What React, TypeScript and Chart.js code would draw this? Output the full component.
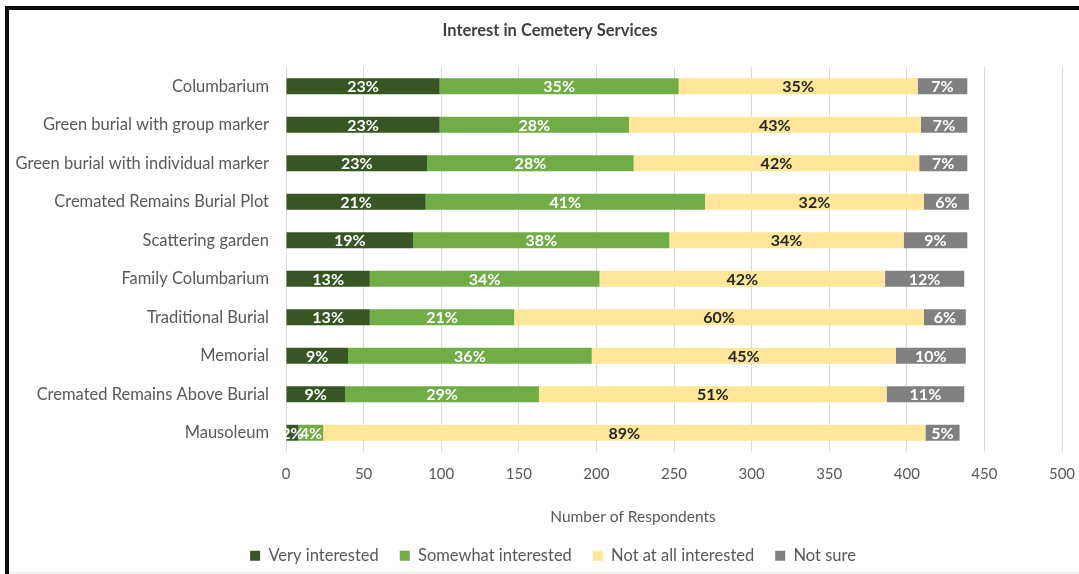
import React, { useEffect, useRef } from "react";
import { Chart, registerables } from "chart.js";

Chart.register(...registerables);

const categories = [
  "Columbarium",
  "Green burial with group marker",
  "Green burial with individual marker",
  "Cremated Remains Burial Plot",
  "Scattering garden",
  "Family Columbarium",
  "Traditional Burial",
  "Memorial",
  "Cremated Remains Above Burial",
  "Mausoleum",
];

const veryInterested = [99, 99, 91, 90, 82, 54, 54, 40, 38, 8];
const somewhatInterested = [154, 122, 133, 180, 165, 148, 93, 157, 125, 16];
const notAtAllInterested = [154, 188, 184, 141, 151, 184, 264, 196, 224, 388];
const notSure = [32, 30, 31, 29, 41, 51, 27, 45, 50, 22];

const veryLabels = ["23%", "23%", "23%", "21%", "19%", "13%", "13%", "9%", "9%", "2%"];
const somewhatLabels = ["35%", "28%", "28%", "41%", "38%", "34%", "21%", "36%", "29%", "4%"];
const notAtAllLabels = ["35%", "43%", "42%", "32%", "34%", "42%", "60%", "45%", "51%", "89%"];
const notSureLabels = ["7%", "7%", "7%", "6%", "9%", "12%", "6%", "10%", "11%", "5%"];

const seriesNames = ["Very interested", "Somewhat interested", "Not at all interested", "Not sure"];
const seriesColors = ["#375623", "#70AD47", "#FFE699", "#808080"];
const labelColors = ["#FFFFFF", "#FFFFFF", "#262626", "#FFFFFF"];

const xTicks = [0, 50, 100, 150, 200, 250, 300, 350, 400, 450, 500];

const chartTitle = "Interest in Cemetery Services";
const xAxisTitle = "Number of Respondents";

const FONT = "Lato, 'Open Sans', sans-serif";
const TEXT = "#595959";

const legendShiftPlugin = {
  id: "legendShift",
  afterLayout(chart: any) {
    const lg = chart.legend;
    if (!lg) return;
    lg.left += 17.5;
    lg.right += 17.5;
    lg.top += 2;
    lg.bottom += 2;
  },
};

const overlayPlugin = {
  id: "overlayText",
  afterDatasetsDraw(chart: any) {
    const ctx = chart.ctx;
    const labelSets = [veryLabels, somewhatLabels, notAtAllLabels, notSureLabels];
    ctx.save();
    ctx.font = `bold 16px ${FONT}`;
    ctx.textAlign = "center";
    ctx.textBaseline = "middle";
    chart.data.datasets.forEach((_ds: any, di: number) => {
      const meta = chart.getDatasetMeta(di);
      meta.data.forEach((bar: any, i: number) => {
        const p = bar.getProps(["x", "y", "base"], true);
        const cx = (p.x + p.base) / 2;
        ctx.fillStyle = labelColors[di];
        ctx.fillText(labelSets[di][i], cx, p.y + 1);
      });
    });
    ctx.fillStyle = "#404040";
    ctx.font = `bold 16.5px ${FONT}`;
    ctx.fillText(chartTitle, 541, 21);
    ctx.fillStyle = TEXT;
    ctx.font = `15.5px ${FONT}`;
    ctx.fillText(xAxisTitle, 624, 507);
    ctx.restore();
  },
};

export default function App() {
  const canvasRef = useRef<HTMLCanvasElement | null>(null);

  useEffect(() => {
    document.body.style.margin = "0";
    const canvas = canvasRef.current;
    if (!canvas) return;
    const datasets = [veryInterested, somewhatInterested, notAtAllInterested, notSure].map((d, i) => ({
      label: seriesNames[i],
      data: d,
      backgroundColor: seriesColors[i],
      borderWidth: 0,
      barPercentage: 0.415,
      categoryPercentage: 1,
    }));
    const chart = new Chart(canvas, {
      type: "bar",
      data: { labels: categories, datasets },
      options: {
        indexAxis: "y",
        animation: false,
        responsive: false,
        devicePixelRatio: 1,
        layout: { padding: { left: 0, right: 31, top: 57, bottom: 0 } },
        plugins: {
          title: { display: false },
          tooltip: { enabled: false },
          legend: {
            position: "bottom",
            labels: {
              boxWidth: 10,
              boxHeight: 10,
              padding: 21,
              color: TEXT,
              font: { family: FONT, size: 16.5 },
            },
          },
        },
        scales: {
          x: {
            stacked: true,
            min: 0,
            max: 500,
            afterBuildTicks: (scale: any) => {
              scale.ticks = xTicks.map((v) => ({ value: v }));
            },
            afterFit: (scale: any) => {
              scale.height = 72.5;
            },
            grid: { color: "#D9D9D9", lineWidth: 1, drawTicks: false },
            border: { display: false },
            ticks: { color: TEXT, padding: 13, font: { family: FONT, size: 15 } },
          },
          y: {
            stacked: true,
            afterFit: (scale: any) => {
              scale.width = 277;
            },
            grid: { display: false, drawTicks: false },
            border: { display: false },
            ticks: { color: TEXT, padding: 17, font: { family: FONT, size: 16.5 } },
          },
        },
      },
      plugins: [legendShiftPlugin, overlayPlugin],
    });
    return () => chart.destroy();
  }, []);

  return (
    <div
      style={{
        position: "absolute",
        left: 0,
        top: 0,
        width: 1079,
        height: 574,
        overflow: "hidden",
        background: "#FFFFFF",
      }}
    >
      <div style={{ position: "absolute", left: 5, top: 6, right: 0, height: 4, background: "#0D0D0D" }} />
      <div style={{ position: "absolute", left: 5, top: 6, width: 4, bottom: 0, background: "#0D0D0D" }} />
      <div style={{ position: "absolute", left: 9, top: 572, right: 0, height: 1, background: "#EBEBEB" }} />
      <div style={{ position: "absolute", left: 9, top: 10, width: 1084, height: 562 }}>
        <canvas ref={canvasRef} width={1084} height={562} style={{ display: "block" }} />
      </div>
    </div>
  );
}
